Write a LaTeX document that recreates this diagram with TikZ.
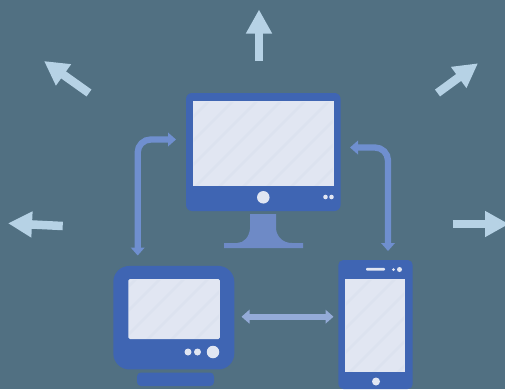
\documentclass[tikz,border=0pt]{standalone}
\usetikzlibrary{arrows.meta}
\definecolor{bgc}{HTML}{517082}
\definecolor{bodyc}{HTML}{3F65B3}
\definecolor{screenc}{HTML}{E1E6F2}
\definecolor{stripec}{HTML}{DCE2EF}
\definecolor{standc}{HTML}{6E8AC6}
\definecolor{linkc}{HTML}{6F8FCF}
\definecolor{linklightc}{HTML}{94ABD8}
\definecolor{rayc}{HTML}{B6D2E5}
\tikzset{
  devicebody/.style={fill=bodyc,draw=none,inner sep=0pt,outer sep=0pt},
  devicescreen/.style={fill=screenc,draw=none,inner sep=0pt,outer sep=0pt},
  lightdot/.style={fill=screenc,draw=none,circle,inner sep=0pt,outer sep=0pt},
  linkline/.style={draw=linkc,line width=6.3pt,rounded corners=13pt,
    {Triangle[length=8pt,width=13.5pt]}-{Triangle[length=8pt,width=13.5pt]}},
  ray/.style={draw=rayc,line width=8.5pt,-{Triangle[length=24pt,width=24.5pt]}},
  stripes/.style={stripec,line width=2.5pt}
}
\begin{document}
\begin{tikzpicture}[x=1pt,y=-1pt]
\clip (0,0) rectangle (505,389);
\fill[bgc] (0,0) rectangle (505,389);
% monitor
\path[fill=standc] (250,214) -- (276,214) -- (276,229) .. controls (277,237) and (283,243) .. (292,243) -- (303,243) -- (303,248) -- (224,248) -- (224,243) -- (237,243) .. controls (244,243) and (249,237) .. (250,229) -- cycle;
\node[devicebody,rounded corners=6pt,minimum width=154.5pt,minimum height=118pt] (monitor) at (263.3,152) {};
\node[devicescreen,minimum width=141pt,minimum height=85pt] (monscreen) at (263,143.5) {};
\begin{scope}
\clip ([shift={(1pt,1pt)}]monscreen.south west) rectangle ([shift={(-1pt,-1pt)}]monscreen.north east);
\foreach \d in {0,24,...,264} \draw[stripes] (110+\d,200) -- (220+\d,90);
\end{scope}
\node[lightdot,minimum size=12.5pt] (monbutton) at (263.3,197.3) {};
\node[lightdot,minimum size=4.6pt] (mondota) at (325.5,197) {};
\node[lightdot,minimum size=4.6pt] (mondotb) at (331.5,197) {};
% tv
\node[devicebody,rounded corners=4pt,minimum width=77pt,minimum height=13.5pt] (tvfoot) at (175.5,379.3) {};
\node[devicebody,rounded corners=16pt,minimum width=121pt,minimum height=103.5pt] (tv) at (173.8,317.7) {};
\node[devicescreen,rounded corners=1.5pt,minimum width=91.5pt,minimum height=60pt] (tvscreen) at (174.2,309) {};
\begin{scope}
\clip ([shift={(1pt,1pt)}]tvscreen.south west) rectangle ([shift={(-1pt,-1pt)}]tvscreen.north east);
\foreach \d in {0,24,...,192} \draw[stripes] (70+\d,345) -- (145+\d,270);
\end{scope}
\node[lightdot,minimum size=7pt] (tvdota) at (188,352) {};
\node[lightdot,minimum size=7pt] (tvdotb) at (197.5,352) {};
\node[lightdot,minimum size=12.5pt] (tvbutton) at (213,352) {};
% phone
\node[devicebody,rounded corners=5pt,minimum width=74.4pt,minimum height=129pt] (phone) at (375.5,324.5) {};
\node[devicescreen,minimum width=60pt,minimum height=93pt] (phscreen) at (375,325.5) {};
\begin{scope}
\clip ([shift={(1pt,1pt)}]phscreen.south west) rectangle ([shift={(-1pt,-1pt)}]phscreen.north east);
\foreach \d in {0,24,...,144} \draw[stripes] (270+\d,380) -- (375+\d,275);
\end{scope}
\node[devicescreen,rounded corners=1pt,minimum width=19pt,minimum height=2.8pt] (speaker) at (375.5,269.3) {};
\node[lightdot,minimum size=3pt] (phdota) at (393.5,269.5) {};
\node[lightdot,minimum size=5pt] (phdotb) at (399.5,269.5) {};
\node[lightdot,minimum size=8pt] (phbutton) at (376,381.5) {};
% connectors between devices
\coordinate (lefttop) at (176,139.5);
\coordinate (leftbend) at (137.7,139.5);
\coordinate (leftbottom) at (137.7,255.5);
\coordinate (righttop) at (350,147.5);
\coordinate (rightbend) at (388,147.5);
\coordinate (rightbottom) at (388,251);
\coordinate (midleft) at (241.5,316.7);
\coordinate (midright) at (333.5,316.7);
\draw[linkline] (leftbottom) -- (leftbend) -- (lefttop);
\draw[linkline] (righttop) -- (rightbend) -- (rightbottom);
\draw[linkline,draw=linklightc] (midleft) -- (midright);
% outward rays
\coordinate (raytopa) at (259,61); \coordinate (raytopb) at (259,9.5);
\coordinate (rayula) at (89,93); \coordinate (rayulb) at (44,61);
\coordinate (raylefta) at (62.7,226); \coordinate (rayleftb) at (8,223.3);
\coordinate (rayura) at (437.5,93); \coordinate (rayurb) at (478,63.3);
\coordinate (rayrighta) at (452.5,224); \coordinate (rayrightb) at (509,224);
\draw[ray] (raytopa) -- (raytopb);
\draw[ray] (rayula) -- (rayulb);
\draw[ray] (raylefta) -- (rayleftb);
\draw[ray] (rayura) -- (rayurb);
\draw[ray] (rayrighta) -- (rayrightb);
\end{tikzpicture}
\end{document}
